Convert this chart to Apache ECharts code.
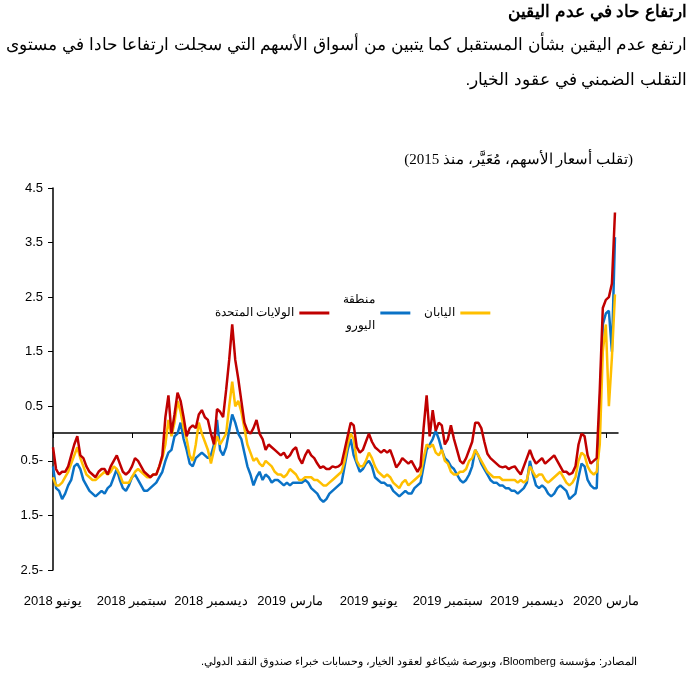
<!DOCTYPE html>
<html><head><meta charset="utf-8">
<script src="https://cdn.jsdelivr.net/npm/echarts@6/dist/echarts.min.js"></script>
<style>html,body{margin:0;padding:0;background:#fff}#c{width:695px;height:686px}</style>
</head><body><div id="c"></div>
<script>
const tickLabels = ['يونيو 2018','سبتمبر 2018','ديسمبر 2018','مارس 2019','يونيو 2019','سبتمبر 2019','ديسمبر 2019','مارس 2020'];
const seriesNames = ['الولايات المتحدة','منطقة\nاليورو','اليابان'];
const us = [-0.25,-0.65,-0.75,-0.7,-0.7,-0.6,-0.4,-0.2,-0.05,-0.4,
-0.45,-0.6,-0.7,-0.75,-0.8,-0.7,-0.65,-0.65,-0.75,-0.6,
-0.5,-0.4,-0.55,-0.7,-0.75,-0.7,-0.6,-0.45,-0.5,-0.6,
-0.7,-0.75,-0.8,-0.75,-0.75,-0.6,-0.4,0.3,0.7,0.0,
0.35,0.75,0.6,0.3,-0.05,0.1,0.15,0.1,0.35,0.43,
0.3,0.25,0.0,-0.2,0.45,0.4,0.3,0.8,1.35,2.0,
1.35,1.0,0.6,0.2,0.05,0.0,0.1,0.25,0.0,-0.1,
-0.3,-0.2,-0.25,-0.3,-0.35,-0.4,-0.35,-0.45,-0.4,-0.3,
-0.25,-0.45,-0.55,-0.4,-0.3,-0.4,-0.45,-0.55,-0.63,-0.6,
-0.65,-0.65,-0.6,-0.62,-0.6,-0.55,-0.3,-0.05,0.2,0.15,
-0.25,-0.35,-0.3,-0.15,0.0,-0.15,-0.25,-0.3,-0.35,-0.3,
-0.35,-0.3,-0.45,-0.62,-0.55,-0.45,-0.5,-0.55,-0.5,-0.6,
-0.7,-0.6,0.1,0.7,-0.05,0.43,0.05,0.2,0.15,-0.2,
-0.1,0.15,-0.1,-0.3,-0.5,-0.55,-0.45,-0.3,-0.15,0.2,
0.2,0.1,-0.15,-0.37,-0.45,-0.5,-0.55,-0.6,-0.62,-0.6,
-0.65,-0.62,-0.6,-0.68,-0.75,-0.6,-0.45,-0.3,-0.45,-0.55,
-0.5,-0.45,-0.55,-0.5,-0.45,-0.4,-0.5,-0.6,-0.7,-0.7,
-0.75,-0.72,-0.6,-0.2,0.0,-0.05,-0.4,-0.55,-0.5,-0.45,
0.8,2.3,2.45,2.5,2.75,4.05];
const euro = [-0.6,-1.0,-1.05,-1.2,-1.1,-0.95,-0.85,-0.6,-0.55,-0.65,
-0.85,-0.95,-1.05,-1.1,-1.15,-1.1,-1.05,-1.1,-1.0,-0.95,
-0.8,-0.65,-0.85,-1.0,-1.05,-0.95,-0.8,-0.75,-0.85,-0.95,
-1.05,-1.05,-1.0,-0.95,-0.9,-0.8,-0.7,-0.5,-0.35,-0.3,
-0.05,0.0,0.2,-0.1,-0.3,-0.55,-0.6,-0.45,-0.4,-0.35,
-0.4,-0.45,-0.4,-0.2,0.25,-0.3,-0.4,-0.25,0.05,0.35,
0.2,0.0,-0.1,-0.35,-0.6,-0.75,-0.95,-0.8,-0.7,-0.85,
-0.75,-0.8,-0.9,-0.85,-0.85,-0.9,-0.95,-0.9,-0.95,-0.9,
-0.9,-0.9,-0.9,-0.85,-0.9,-1.0,-1.05,-1.1,-1.2,-1.25,
-1.2,-1.1,-1.05,-1.0,-0.95,-0.9,-0.6,-0.3,-0.1,-0.4,
-0.55,-0.7,-0.65,-0.55,-0.5,-0.6,-0.8,-0.85,-0.9,-0.9,
-0.95,-0.95,-1.05,-1.1,-1.15,-1.1,-1.05,-1.1,-1.1,-1.0,
-0.95,-0.9,-0.6,-0.3,-0.2,-0.1,0.05,-0.1,-0.3,-0.45,
-0.5,-0.6,-0.65,-0.75,-0.85,-0.9,-0.85,-0.75,-0.6,-0.3,
-0.4,-0.55,-0.65,-0.75,-0.85,-0.9,-0.9,-0.95,-0.95,-1.0,
-1.0,-1.05,-1.05,-1.1,-1.05,-1.0,-0.9,-0.5,-0.75,-0.95,
-1.0,-0.95,-1.0,-1.1,-1.15,-1.1,-1.0,-0.95,-1.0,-1.05,
-1.2,-1.15,-1.1,-0.8,-0.55,-0.6,-0.85,-0.95,-1.0,-1.0,
0.5,2.0,2.2,2.25,1.5,3.6];
const japan = [-0.8,-0.95,-0.95,-0.9,-0.8,-0.7,-0.55,-0.4,-0.25,-0.45,
-0.6,-0.75,-0.8,-0.85,-0.85,-0.8,-0.75,-0.7,-0.75,-0.7,
-0.6,-0.65,-0.75,-0.9,-0.9,-0.9,-0.8,-0.7,-0.65,-0.7,
-0.75,-0.8,-0.8,-0.75,-0.75,-0.6,-0.45,-0.2,0.25,-0.05,
0.2,0.6,0.4,0.1,-0.1,-0.4,-0.5,-0.2,0.2,0.0,
-0.15,-0.3,-0.55,-0.3,-0.05,-0.2,-0.1,0.0,0.5,0.95,
0.5,0.6,0.4,0.1,-0.2,-0.35,-0.5,-0.45,-0.55,-0.6,
-0.5,-0.55,-0.6,-0.7,-0.75,-0.75,-0.8,-0.75,-0.65,-0.7,
-0.75,-0.85,-0.85,-0.8,-0.8,-0.8,-0.85,-0.85,-0.9,-0.95,
-0.95,-0.9,-0.85,-0.8,-0.75,-0.7,-0.5,-0.2,0.0,-0.1,
-0.5,-0.6,-0.6,-0.5,-0.35,-0.45,-0.6,-0.7,-0.75,-0.8,
-0.75,-0.8,-0.9,-0.95,-1.0,-0.9,-0.85,-0.95,-0.9,-0.85,
-0.8,-0.75,-0.45,-0.2,-0.25,-0.2,-0.35,-0.4,-0.3,-0.5,
-0.55,-0.7,-0.75,-0.75,-0.7,-0.7,-0.65,-0.5,-0.45,-0.3,
-0.4,-0.5,-0.6,-0.7,-0.75,-0.8,-0.8,-0.8,-0.85,-0.85,
-0.85,-0.85,-0.85,-0.9,-0.85,-0.9,-0.85,-0.6,-0.7,-0.8,
-0.75,-0.75,-0.85,-0.9,-0.85,-0.8,-0.75,-0.7,-0.8,-0.9,
-0.95,-0.9,-0.8,-0.5,-0.35,-0.4,-0.6,-0.7,-0.75,-0.7,
-0.2,1.5,2.0,0.5,1.4,2.55];
const ptsPerQuarter = 26;
const nCats = 187;
const categories = [];
for (let i = 0; i < nCats; i++) categories.push(String(i));
const rtl = s => '\u202B' + s + '\u202C';

const chart = echarts.init(document.getElementById('c'));
const F = '"Liberation Sans", Arial, sans-serif';
chart.setOption({
  animation:false,
  textStyle:{fontFamily:F},
  graphic:[
    {type:'text',right:8,top:4,style:{text:rtl('ارتفاع حاد في عدم اليقين'),font:'bold 17px '+F,fill:'#000'}},
    {type:'text',right:8,top:37,style:{text:rtl('ارتفع عدم اليقين بشأن المستقبل كما يتبين من أسواق الأسهم التي سجلت ارتفاعا حادا في مستوى'),font:'17px '+F,fill:'#000'}},
    {type:'text',right:8,top:72,style:{text:rtl('التقلب الضمني في عقود الخيار.'),font:'17px '+F,fill:'#000'}},
    {type:'text',right:62,top:153,style:{text:rtl('(تقلب أسعار الأسهم، مُعَيَّر، منذ 2015)'),font:'15px "Liberation Serif", "Times New Roman", serif',fill:'#000'}},
    {type:'text',right:58,top:656,style:{text:rtl('المصادر: مؤسسة Bloomberg، وبورصة شيكاغو لعقود الخيار، وحسابات خبراء صندوق النقد الدولي.'),font:'11px '+F,fill:'#000'}}
  ],
  legend:{
    data:[seriesNames[0],seriesNames[1],seriesNames[2]],
    left:210, top:282, align:'right', icon:'rect', itemWidth:30, itemHeight:3, itemGap:14,
    textStyle:{fontSize:12,color:'#000',lineHeight:26}
  },
  grid:{left:53,right:77,top:188,bottom:116},
  xAxis:[{
    type:'category',data:categories,boundaryGap:false,
    axisLine:{show:false},axisTick:{show:false},
    axisLabel:{interval:ptsPerQuarter-1,margin:25,fontSize:13,color:'#000',
      formatter:(v,i)=>tickLabels[i/ptsPerQuarter]||''}
  },{
    type:'category',data:categories,boundaryGap:false,position:'bottom',offset:-137,
    axisLine:{show:true,lineStyle:{color:'#000',width:1.5}},
    axisTick:{show:true,interval:ptsPerQuarter-1,length:5,lineStyle:{color:'#000'}},
    axisLabel:{show:false}
  }],
  yAxis:{
    type:'value',min:-2.5,max:4.5,interval:1,
    axisLine:{show:true,lineStyle:{color:'#000',width:1.5}},
    axisTick:{show:true,length:5,lineStyle:{color:'#000'}},
    splitLine:{show:false},
    axisLabel:{fontSize:13,color:'#000',margin:10,formatter:v=>v<0?Math.abs(v)+'-':String(v)}
  },
  series:[
    {name:seriesNames[1],type:'line',data:euro,showSymbol:false,color:'#0a72c6',lineStyle:{width:2.5}},
    {name:seriesNames[2],type:'line',data:japan,showSymbol:false,color:'#ffbf00',lineStyle:{width:2.5}},
    {name:seriesNames[0],type:'line',data:us,showSymbol:false,color:'#c00000',lineStyle:{width:2.5}}
  ]
});
</script></body></html>
